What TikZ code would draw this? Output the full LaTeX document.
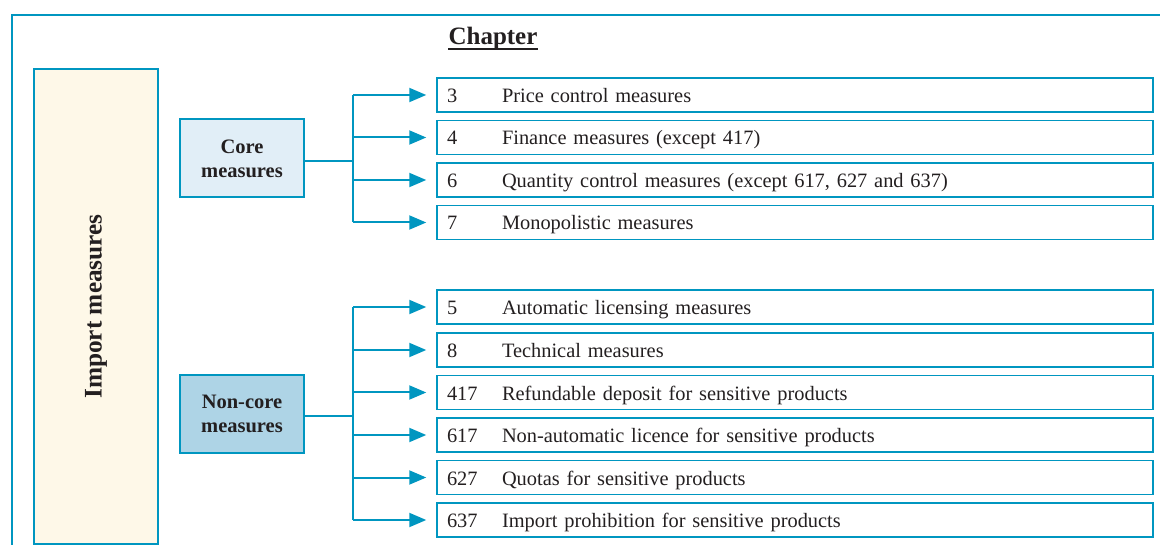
\documentclass[tikz,border=0pt]{standalone}
\usepackage{fontspec}
\setmainfont{Liberation Serif}
\usetikzlibrary{arrows.meta}
\definecolor{teal}{RGB}{0,150,192}
\definecolor{cream}{RGB}{254,248,232}
\definecolor{corefill}{RGB}{225,238,247}
\definecolor{noncorefill}{RGB}{174,212,230}
\definecolor{txt}{RGB}{35,31,32}
\begin{document}
\begin{tikzpicture}[x=1pt,y=-1pt,
  catbox/.style={draw=teal,line width=2pt,minimum width=124pt,minimum height=78pt,inner sep=0pt,align=center,font=\fontsize{20.5}{24}\selectfont\bfseries,text=txt},
  itembox/.style={draw=teal,line width=1.5pt,minimum width=716pt,minimum height=34pt,inner xsep=10pt,inner ysep=0pt,text width=696pt,text height=16pt,text depth=1pt,align=left,font=\fontsize{20.4}{24}\selectfont,text=txt},
  conn/.style={draw=teal,line width=2pt},
  arr/.style={conn,-{Triangle[length=17pt,width=14pt]}}
]
\useasboundingbox (0,0) rectangle (1160,545);
\draw[teal,line width=2.5pt] (12,546) -- (12,15) -- (1161,15);
\node[fill=cream,draw=teal,line width=2pt,minimum width=124pt,minimum height=475pt,inner sep=0pt] (imp) at (96,306.5) {};
\node[rotate=90,font=\fontsize{25.3}{30}\selectfont\bfseries,text=txt] (impt) at (imp.center) {Import measures};
\node[font=\fontsize{25}{30}\selectfont\bfseries,text=txt,inner sep=0pt] (chap) at (493,38) {Chapter};
\draw[txt,line width=1.6pt] ([yshift=-5pt]chap.base west) -- ([yshift=-5pt]chap.base east);
\node[catbox,fill=corefill] (core) at (242,158.5) {Core\\measures};
\node[catbox,fill=noncorefill] (noncore) at (242,414) {Non-core\\measures};
\newcommand{\itm}[2]{\makebox[55pt][l]{#1}#2}
\node[itembox] (i3) at (795,95) {\itm{3}{Price control measures}};
\node[itembox] (i4) at (795,137.5) {\itm{4}{Finance measures (except 417)}};
\node[itembox] (i6) at (795,180) {\itm{6}{Quantity control measures (except 617, 627 and 637)}};
\node[itembox] (i7) at (795,222.5) {\itm{7}{Monopolistic measures}};
\node[itembox] (i5) at (795,307) {\itm{5}{Automatic licensing measures}};
\node[itembox] (i8) at (795,350) {\itm{8}{Technical measures}};
\node[itembox] (i417) at (795,392.5) {\itm{417}{Refundable deposit for sensitive products}};
\node[itembox] (i617) at (795,435) {\itm{617}{Non-automatic licence for sensitive products}};
\node[itembox] (i627) at (795,477.5) {\itm{627}{Quotas for sensitive products}};
\node[itembox] (i637) at (795,520) {\itm{637}{Import prohibition for sensitive products}};
\coordinate (cb) at (353,161);
\coordinate (nb) at (353,416);
\draw[conn] (core.east |- cb) -- (cb);
\draw[conn] (cb |- i3.west) -- (cb |- i7.west);
\foreach \n in {i3,i4,i6,i7}{\draw[arr] (cb |- \n.west) -- ([xshift=-10pt]\n.west);}
\draw[conn] (noncore.east |- nb) -- (nb);
\draw[conn] (nb |- i5.west) -- (nb |- i637.west);
\foreach \n in {i5,i8,i417,i617,i627,i637}{\draw[arr] (nb |- \n.west) -- ([xshift=-10pt]\n.west);}
\end{tikzpicture}
\end{document}
